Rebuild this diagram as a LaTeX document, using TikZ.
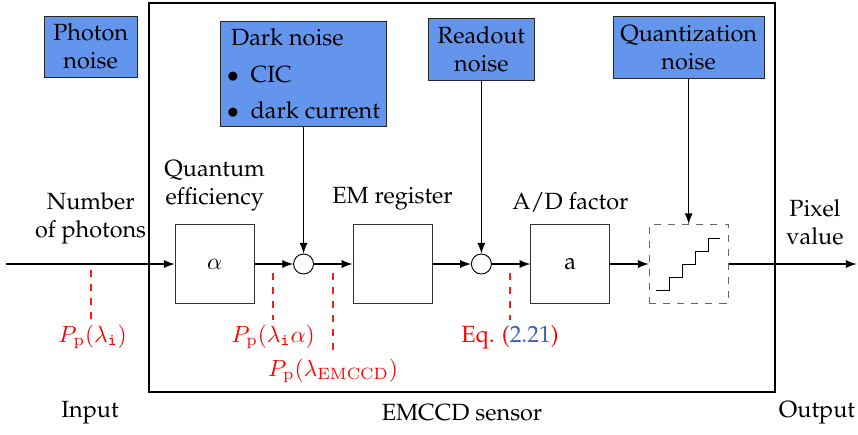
\documentclass[tikz,border=0pt]{standalone}
\usepackage[T1]{fontenc}
\renewcommand{\rmdefault}{ppl}
\usepackage[dvipsnames,svgnames,x11names]{xcolor}
\definecolor{noiseblue}{RGB}{100,149,237}
\definecolor{eqblue}{RGB}{64,96,176}
\usepackage{tikz}
\usetikzlibrary{arrows.meta, positioning}

\begin{document}
\begin{tikzpicture}[
      node distance=0.577cm,
      blk/.style={rectangle, draw=black!80, minimum size=1.185cm, inner sep=0pt},
      sum/.style={circle, draw, minimum size=0.3cm, inner sep=0pt},
      noise/.style={rectangle, draw=black!85, fill=noiseblue, align=center,
                    inner sep=3pt, minimum height=0.92cm},
      lbl/.style={align=center, inner sep=2pt},
      prob/.style={red, inner sep=2pt},
      arr/.style={->, >=latex, semithick},
      probe/.style={draw=red!90, dashed, line width=0.5pt},
      ]
    \useasboundingbox (0,3.96) rectangle (12.87,-2.55);
    % sensor frame
    \draw[very thick] (2.235,3.915) rectangle (11.625,-1.92);

    % signal chain
    \coordinate (in) at (0.09,0);
    \node[blk] (qe) at (3.22,0) {$\alpha$};
    \node[sum, right=of qe] (sum1) {};
    \node[blk, right=of sum1] (em) {};
    \node[sum, right=of em] (sum2) {};
    \node[blk, right=of sum2] (ad) {a};
    \node[blk, right=of ad, draw=black!60, dashed] (quant) {};
    \coordinate (out) at (12.85,0);
    \draw[shift={(quant.center)}] (-0.49,-0.39)
      \foreach \k in {1,...,4} {-- ++(0.195,0) -- ++(0,0.195)} -- ++(0.18,0);

    % noise sources
    \node[noise, minimum width=1.4cm] (photon) at (1.36,3.26) {Photon\\noise};
    \node[noise, align=left, minimum width=2.48cm, above=1.905cm of sum1] (dark)
      {\,Dark noise\\[3.5pt] $\bullet$\hspace{5pt}CIC\\[3.5pt] $\bullet$\hspace{5pt}dark current};
    \node[noise, minimum width=1.6cm, above=2.595cm of sum2] (readout) {Readout\\noise};
    \node[noise, minimum width=2.19cm, above=2.18cm of quant] (qnoise) {Quantization\\noise};

    % block labels
    \node[lbl] (nph) at (1.36,0.69) {Number\\of photons};
    \node[lbl, above=0.12cm of qe] (qelbl) {Quantum\\efficiency};
    \node[lbl, above=0.13cm of em] (emlbl) {EM register};
    \node[lbl, above=0.1cm of ad] (adlbl) {A/D factor};
    \node[lbl] (pix) at (12.225,0.63) {Pixel\\value};

    \draw[arr] (in) -- (qe);
    \draw[arr] (qe) -- (sum1);
    \draw[arr] (sum1) -- (em);
    \draw[arr] (em) -- (sum2);
    \draw[arr] (sum2) -- (ad);
    \draw[arr] (ad) -- (quant);
    \draw[arr] (quant) -- (out);
    \draw[arr] (dark) -- (sum1);
    \draw[arr] (readout) -- (sum2);
    \draw[arr] (qnoise) -- (quant);

    % distributions along the chain
    \node[prob] (p0) at (1.39,-1.095) {$P_\mathrm{p}(\lambda_\mathtt{i})$};
    \node[prob] (p1) at (4.095,-1.095) {$P_\mathrm{p}(\lambda_\mathtt{i}\alpha)$};
    \node[prob] (p2) at (4.995,-1.605) {$P_\mathrm{p}(\lambda_\mathrm{EMCCD})$};
    \node[prob] (p3) at (7.65,-1.095) {Eq. (\textcolor{eqblue}{2.21})};
    \coordinate (t0) at (1.365,-0.09);
    \coordinate (t1) at (4.095,-0.135);
    \coordinate (t2) at (4.995,-0.135);
    \coordinate (t3) at (7.65,-0.135);
    \draw[probe] (t0) -- (t0 |- p0.north);
    \draw[probe] (t1) -- (t1 |- p1.north);
    \draw[probe] (t2) -- (t2 |- p2.north);
    \draw[probe] (t3) -- (t3 |- p3.north);

    % bottom captions
    \node[lbl] (input) at (1.35,-2.235) {Input};
    \node[lbl] (sensor) at (6.93,-2.235) {EMCCD sensor};
    \node[lbl] (output) at (12.255,-2.235) {Output};
  \end{tikzpicture}
\end{document}
